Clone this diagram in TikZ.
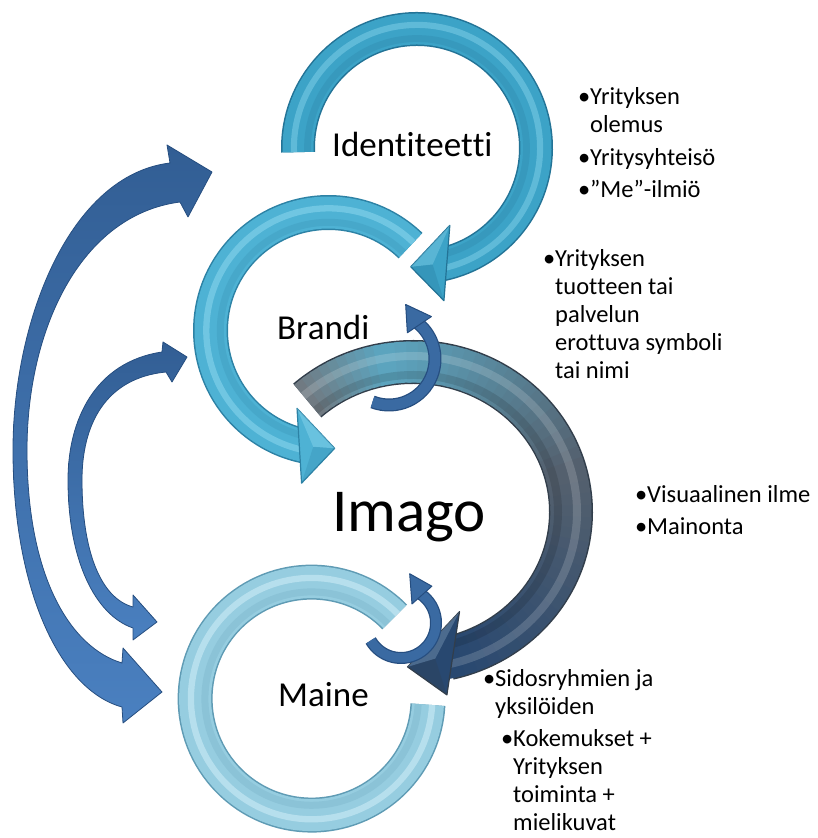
\documentclass[tikz,border=0pt]{standalone}
\usepackage{fontspec}
\setmainfont{Carlito}[RawFeature={-liga;-clig;-dlig;-calt}]

\definecolor{idMain}{RGB}{60,163,199}
\definecolor{idRim}{RGB}{35,115,150}
\definecolor{idLight}{RGB}{125,205,230}
\definecolor{brMain}{RGB}{78,178,212}
\definecolor{brRim}{RGB}{45,130,165}
\definecolor{brLight}{RGB}{140,215,238}
\definecolor{imGray}{RGB}{112,122,130}
\definecolor{imTeal}{RGB}{92,164,190}
\definecolor{imSlate}{RGB}{84,96,110}
\definecolor{imNavy}{RGB}{40,72,112}
\definecolor{imRim}{RGB}{50,62,75}
\definecolor{imLight}{RGB}{120,150,180}
\definecolor{maMain}{RGB}{150,205,224}
\definecolor{maRim}{RGB}{95,155,180}
\definecolor{maLight}{RGB}{210,238,248}
\definecolor{arMain}{RGB}{58,106,162}
\definecolor{arTop}{RGB}{50,94,148}
\definecolor{arBot}{RGB}{74,128,192}
\definecolor{arRim}{RGB}{38,78,128}

% stroked elliptic arc: rx, ry, start, end, width, options
\newcommand\earc[6]{%
  \draw[line width=#5pt,#6] (#3:#1 and #2) arc[start angle=#3,end angle=#4,x radius=#1pt,y radius=#2pt];}

% bevelled band: rx, ry, start, end, width, face, rim, light
\newcommand\band[8]{%
  \pgfmathsetmacro\bdFace{#5-3}%
  \pgfmathsetmacro\bdHiW{0.18*#5}%
  \pgfmathsetmacro\bdHiX{#1+0.12*#5}%
  \pgfmathsetmacro\bdHiY{#2+0.12*#5}%
  \pgfmathsetmacro\bdLoW{0.2*#5}%
  \pgfmathsetmacro\bdLoX{#1-0.28*#5}%
  \pgfmathsetmacro\bdLoY{#2-0.28*#5}%
  \earc{#1}{#2}{#3}{#4}{#5}{#7}%
  \earc{#1}{#2}{#3}{#4}{\bdFace}{#6}%
  \earc{\bdHiX}{\bdHiY}{#3}{#4}{\bdHiW}{#8,opacity=0.55}%
  \earc{\bdLoX}{\bdLoY}{#3}{#4}{\bdLoW}{#7,opacity=0.2}%
}

% band face whose colour runs from colA to colB: rx, ry, start, end, width, colA, colB, steps
\newcommand\gradface[8]{%
  \foreach \gk in {1,...,#8}{%
    \pgfmathsetmacro\gsa{#3+(#4-#3)*(\gk-1)/#8}%
    \pgfmathsetmacro\gea{#3+(#4-#3)*(\gk+0.4)/#8}%
    \pgfmathtruncatemacro\gp{100*(\gk-1)/(#8-1)}%
    \earc{#1}{#2}{\gsa}{\gea}{#5}{#7!\gp!#6}%
  }}

% bevelled arrow head: inner barb, tip, outer barb, face, rim, light
\newcommand\headshape[6]{%
  \coordinate (hA) at #1; \coordinate (hT) at #2; \coordinate (hB) at #3;
  \filldraw[fill=#4,draw=#5,line width=1.2pt,line join=round] (hA) -- (hT) -- (hB) -- cycle;
  \coordinate (hM) at (barycentric cs:hA=1,hT=1.3,hB=1);
  \fill[#6,opacity=0.45] (hA) -- (hT) -- (hM) -- cycle;
  \fill[#5,opacity=0.25] (hB) -- (hT) -- (hM) -- cycle;
}

% keeps two letters as separate glyphs
\newcommand\nl{\kern0pt }

\tikzset{
  bigtitle/.style={anchor=base west,inner sep=0pt,font=\fontsize{35}{42}\selectfont},
  bultext/.style={anchor=base west,inner sep=0pt,font=\fontsize{24.5}{28}\selectfont},
  flathead/.style={fill=arMain,draw=arRim,line width=1pt,line join=round},
  sidearc/.style={top color=arTop,bottom color=arBot,draw=arRim,line width=0.8pt,line join=round}
}

\begin{document}
\begin{tikzpicture}[x=1pt,y=1pt]
\useasboundingbox (0,0) rectangle (817,838);
\fill[white] (0,0) rectangle (817,838);

% two-headed side arcs
\shadedraw[sidearc]
  (170,675) -- (167,693) -- (212,666) -- (188,621) -- (180,636)
  .. controls (80,623) and (27,508) .. (27,388)
  .. controls (27,258) and (72,190) .. (122,175)
  -- (123,190) -- (162,146) -- (123,115) -- (122,131)
  .. controls (60,148) and (13,248) .. (13,388)
  .. controls (13,518) and (70,663) .. (170,675) -- cycle;
\shadedraw[sidearc]
  (162,486) -- (163,496) -- (187,481) -- (172,456) -- (166,466)
  .. controls (105,460) and (82,413) .. (82,358)
  .. controls (82,288) and (100,240) .. (133,231)
  -- (133,243) -- (157,216) -- (133,198) -- (133,210)
  .. controls (95,223) and (68,278) .. (68,358)
  .. controls (68,418) and (95,476) .. (162,486) -- cycle;

% Identiteetti ring
\begin{scope}[shift={(417,690)}]
  \band{119}{119}{182}{-78}{34}{idMain}{idRim}{idLight}
  \headshape{(-67:84)}{(-93:119)}{(-80:155)}{idMain}{idRim}{idLight}
\end{scope}

% Brandi ring
\begin{scope}[shift={(328.5,507.5)}]
  \band{118}{118}{46}{258}{35}{brMain}{brRim}{brLight}
  \headshape{(248:84)}{(273:118)}{(260:155)}{brMain}{brRim}{brLight}
\end{scope}

% Imago ring, colour running grey - teal - slate - navy
\begin{scope}[shift={(413,326)}]
  \earc{158}{150}{132}{-77}{44}{imRim}
  \gradface{158}{150}{132}{100}{41}{imGray}{imTeal}{10}
  \gradface{158}{150}{100}{15}{41}{imTeal}{imSlate}{22}
  \gradface{158}{150}{15}{-77}{41}{imSlate}{imNavy}{22}
  \earc{164}{156}{132}{-77}{8}{white,opacity=0.16}
  \earc{145}{137}{132}{-77}{8}{black,opacity=0.12}
  \headshape{(-65:110)}{(-92:155)}{(-79.5:186)}{imNavy}{imRim}{imLight}
\end{scope}

% small arrow between Brandi and Imago
\begin{scope}[shift={(389,479)}]
  \earc{46}{46}{249}{411}{13}{arRim}
  \earc{46}{46}{249}{411}{10.5}{arMain}
  \filldraw[flathead] (55:32) -- (73:57) -- (45:60) -- cycle;
\end{scope}

% Maine ring
\begin{scope}[shift={(311.6,139.4)}]
  \band{116.5}{116.5}{44.5}{357}{35}{maMain}{maRim}{maLight}
\end{scope}

% small arrow between Imago and Maine
\begin{scope}[shift={(401,215)}]
  \earc{35}{35}{210}{418}{12}{arRim}
  \earc{35}{35}{210}{418}{9.5}{arMain}
  \filldraw[flathead] (60:22) -- (80:50) -- (50:48) -- cycle;
\end{scope}

% ring titles
\node[bigtitle] (identiteetti) at (332,681) {Ident\nl i\nl t\nl eet\nl t\nl i};
\node[bigtitle] (brandi) at (277,498) {Brandi};
\node[anchor=base west,inner sep=0pt,font=\fontsize{61}{70}\selectfont] (imago) at (332,306) {Imago};
\node[bigtitle] (maine) at (278,131) {Maine};

% bullet texts
\node[bultext] (idA) at (590,733) {\begin{tabular}[t]{@{}l@{}}\llap{•}Yrityksen\\olemus\end{tabular}};
\node[bultext] (idB) at (590,672) {\llap{•}Yritysyhteisö};
\node[bultext] (idC) at (590,640) {\llap{•}”Me”-ilmiö};
\node[bultext] (brA) at (555,571) {\begin{tabular}[t]{@{}l@{}}\llap{•}Yrityksen\\tuot\nl teen tai\\palvelun\\erot\nl tuva symboli\\tai nimi\end{tabular}};
\node[bultext] (imA) at (647,335) {\llap{•}Visuaalinen ilme};
\node[bultext] (imB) at (647,303) {\llap{•}Mainonta};
\node[bultext] (maA) at (495,151) {\begin{tabular}[t]{@{}l@{}}\llap{•}Sidosryhmien ja\\yksilöiden\end{tabular}};
\node[bultext] (maB) at (513,91) {\begin{tabular}[t]{@{}l@{}}\llap{•}Kokemukset +\\Yrityksen\\toiminta +\\mielikuvat\end{tabular}};
\end{tikzpicture}
\end{document}
